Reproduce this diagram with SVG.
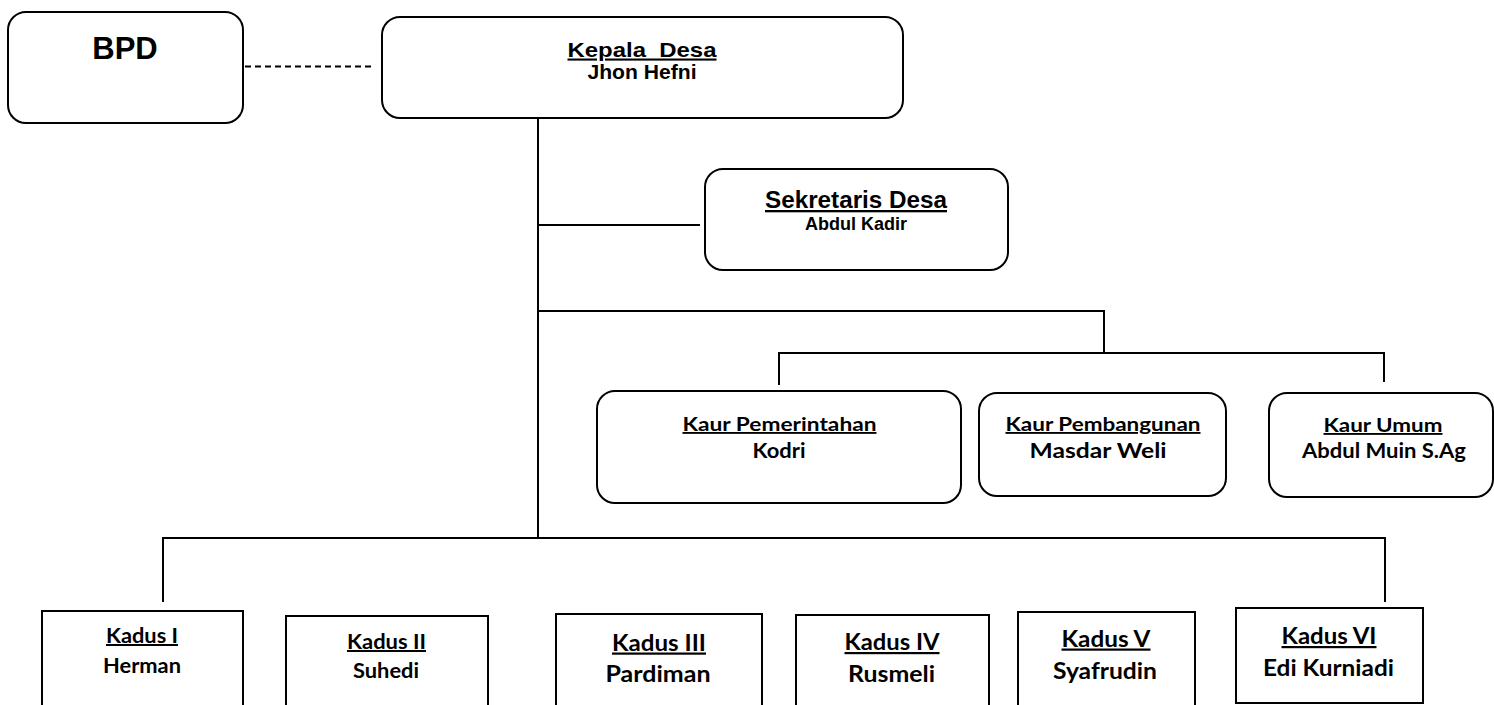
<svg xmlns="http://www.w3.org/2000/svg" width="1494" height="705" viewBox="0 0 1494 705">
<style>
.rb{fill:#fff;stroke:#000;stroke-width:2}
.sq{fill:#fff;stroke:#000;stroke-width:2}
.ln{fill:none;stroke:#000;stroke-width:2}
.dash{fill:none;stroke:#000;stroke-width:2;stroke-dasharray:6 4}
.a{font-family:"Liberation Sans",Arial,sans-serif;font-weight:bold;fill:#000;text-anchor:middle}
.c{font-family:Lato,"Open Sans",sans-serif;font-weight:bold;fill:#000;text-anchor:middle}
.u{text-decoration:underline}
</style>
<rect width="1494" height="705" fill="#fff"/>
<g id="connectors">
<path class="dash" d="M245 66.5 H372"/>
<path class="ln" d="M538 118 V538"/>
<path class="ln" d="M538 225 H700"/>
<path class="ln" d="M538 311 H1104 V353"/>
<path class="ln" d="M779 385 V353 H1384 V382"/>
<path class="ln" d="M163 602 V538 H1385 V602"/>
</g>
<g id="bpd">
<rect class="rb" x="8" y="12" width="235" height="111" rx="18"/>
<text class="a" x="125" y="59" font-size="31">BPD</text>
</g>
<g id="kepala-desa">
<rect class="rb" x="382" y="17" width="521" height="101" rx="18"/>
<text class="a u" x="642" y="56.5" font-size="21" textLength="149" lengthAdjust="spacingAndGlyphs" xml:space="preserve">Kepala  Desa</text>
<text class="a" x="642" y="79" font-size="20.5" textLength="109" lengthAdjust="spacingAndGlyphs">Jhon Hefni</text>
</g>
<g id="sekretaris-desa">
<rect class="rb" x="705" y="169" width="303" height="101" rx="18"/>
<text class="a u" x="856" y="208" font-size="23" textLength="182" lengthAdjust="spacingAndGlyphs">Sekretaris Desa</text>
<text class="a" x="856" y="230" font-size="18" textLength="102" lengthAdjust="spacingAndGlyphs">Abdul Kadir</text>
</g>
<g id="kaur-pemerintahan">
<rect class="rb" x="597" y="391" width="364" height="112" rx="18"/>
<text class="c u" x="779.5" y="431" font-size="18.5" textLength="194" lengthAdjust="spacingAndGlyphs">Kaur Pemerintahan</text>
<text class="c" x="779" y="458" font-size="20.5" textLength="53" lengthAdjust="spacingAndGlyphs">Kodri</text>
</g>
<g id="kaur-pembangunan">
<rect class="rb" x="979" y="393" width="247" height="103" rx="18"/>
<text class="c u" x="1103" y="431" font-size="18.5" textLength="195" lengthAdjust="spacingAndGlyphs">Kaur Pembangunan</text>
<text class="c" x="1098" y="458" font-size="20.5" textLength="137" lengthAdjust="spacingAndGlyphs">Masdar Weli</text>
</g>
<g id="kaur-umum">
<rect class="rb" x="1269" y="393" width="224" height="104" rx="18"/>
<text class="c u" x="1383" y="432" font-size="18.5" textLength="119" lengthAdjust="spacingAndGlyphs">Kaur Umum</text>
<text class="c" x="1384" y="458" font-size="20.5" textLength="164" lengthAdjust="spacingAndGlyphs">Abdul Muin S.Ag</text>
</g>
<g id="kadus-1">
<rect class="sq" x="42" y="611" width="201" height="110"/>
<text class="c u" x="142" y="643" font-size="20" textLength="72" lengthAdjust="spacingAndGlyphs">Kadus I</text>
<text class="c" x="142" y="673" font-size="20" textLength="78" lengthAdjust="spacingAndGlyphs">Herman</text>
</g>
<g id="kadus-2">
<rect class="sq" x="286" y="616" width="202" height="110"/>
<text class="c u" x="386.5" y="649" font-size="20" textLength="79" lengthAdjust="spacingAndGlyphs">Kadus II</text>
<text class="c" x="386" y="678" font-size="20" textLength="66" lengthAdjust="spacingAndGlyphs">Suhedi</text>
</g>
<g id="kadus-3">
<rect class="sq" x="556" y="614" width="206" height="110"/>
<text class="c u" x="659" y="650.5" font-size="22" textLength="94" lengthAdjust="spacingAndGlyphs">Kadus III</text>
<text class="c" x="658" y="681.5" font-size="22" textLength="105" lengthAdjust="spacingAndGlyphs">Pardiman</text>
</g>
<g id="kadus-4">
<rect class="sq" x="796" y="615" width="193" height="110"/>
<text class="c u" x="892" y="650" font-size="22" textLength="95" lengthAdjust="spacingAndGlyphs">Kadus IV</text>
<text class="c" x="891.5" y="682" font-size="22" textLength="87" lengthAdjust="spacingAndGlyphs">Rusmeli</text>
</g>
<g id="kadus-5">
<rect class="sq" x="1018" y="612" width="177" height="110"/>
<text class="c u" x="1106" y="646.5" font-size="22" textLength="89" lengthAdjust="spacingAndGlyphs">Kadus V</text>
<text class="c" x="1105" y="679" font-size="22" textLength="104" lengthAdjust="spacingAndGlyphs">Syafrudin</text>
</g>
<g id="kadus-6">
<rect class="sq" x="1236" y="608" width="187" height="95"/>
<text class="c u" x="1329" y="644" font-size="22" textLength="95" lengthAdjust="spacingAndGlyphs">Kadus VI</text>
<text class="c" x="1328.5" y="675.5" font-size="22" textLength="131" lengthAdjust="spacingAndGlyphs">Edi Kurniadi</text>
</g>
</svg>
